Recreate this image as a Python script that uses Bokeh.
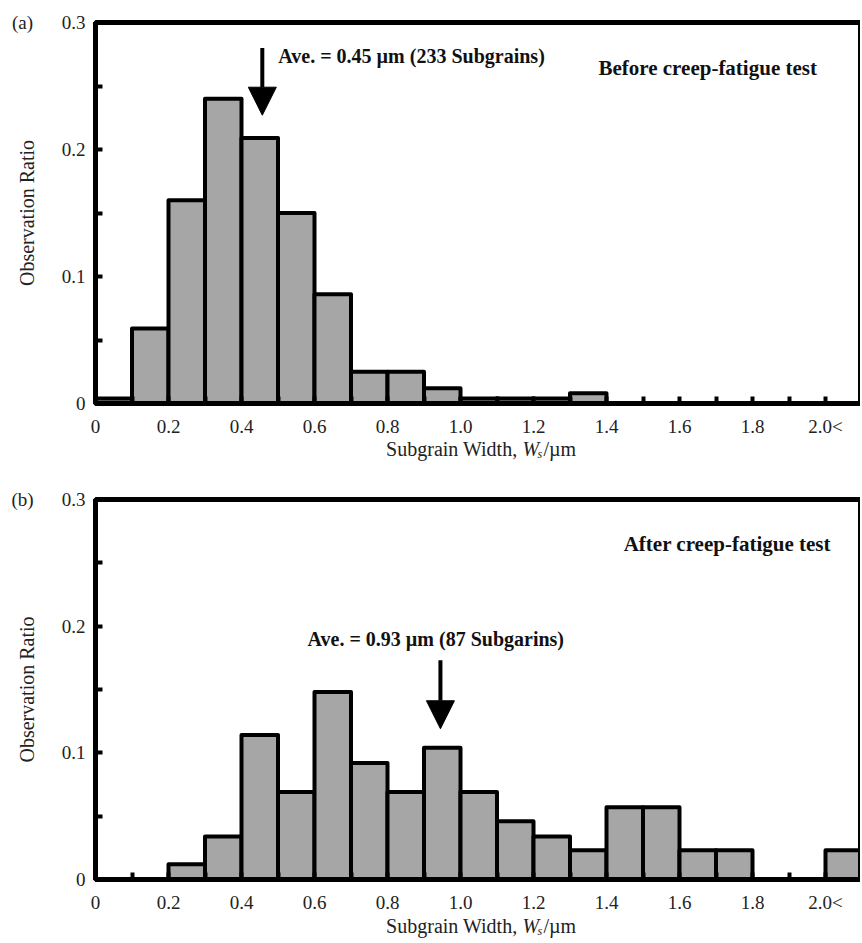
from bokeh.plotting import figure
from bokeh.layouts import column
from bokeh.models import (Range1d, FixedTicker, Label, Arrow, NormalHead, ColumnDataSource,
                          BoxAnnotation)
from bokeh.embed import file_html
from bokeh.resources import INLINE

# ---------------- data ----------------
BIN_LEFT = [0.0, 0.1, 0.2, 0.3, 0.4, 0.5, 0.6, 0.7, 0.8, 0.9, 1.0,
            1.1, 1.2, 1.3, 1.4, 1.5, 1.6, 1.7, 1.8, 1.9, 2.0]
BIN_WIDTH = 0.1
RATIO_BEFORE = [0.004, 0.059, 0.160, 0.240, 0.209, 0.150, 0.086, 0.025, 0.025, 0.012, 0.004,
                0.004, 0.004, 0.008, 0.0, 0.0, 0.0, 0.0, 0.0, 0.0, 0.0]
RATIO_AFTER = [0.0, 0.0, 0.012, 0.034, 0.114, 0.069, 0.148, 0.092, 0.069, 0.104, 0.069,
               0.046, 0.034, 0.023, 0.057, 0.057, 0.023, 0.023, 0.0, 0.0, 0.023]

X_TICKS = [0.0, 0.2, 0.4, 0.6, 0.8, 1.0, 1.2, 1.4, 1.6, 1.8, 2.0]
X_TICK_LABELS = ["0", "0.2", "0.4", "0.6", "0.8", "1.0", "1.2", "1.4", "1.6", "1.8", "2.0<"]
X_MINOR = [0.1, 0.3, 0.5, 0.7, 0.9, 1.1, 1.3, 1.5, 1.7, 1.9]
Y_TICKS = [0.0, 0.1, 0.2, 0.3]
Y_TICK_LABELS = ["0", "0.1", "0.2", "0.3"]
Y_MINOR = [0.05, 0.15, 0.25]

PANEL_LABELS = ["(a)", "(b)"]
AVE_TEXT = ["Ave. = 0.45 \u00b5m (233 Subgrains)", "Ave. = 0.93 \u00b5m (87 Subgarins)"]
COND_TEXT = ["Before creep-fatigue test", "After creep-fatigue test"]
Y_LABEL = "Observation Ratio"
X_LABEL_PARTS = ["Subgrain Width, ", "W", "s", "/\u00b5m"]

# ---------------- styles / layout ----------------
FONT = "Liberation Serif"
BAR_FILL = "#a6a6a6"
TXT = "#222222"
W = 860
PX_PER_X = 365.0          # pixels per x unit
LEFT_PX = 95              # canvas x of x = 0
X_MAX = (W - LEFT_PX) / PX_PER_X


def make_panel(values, idx, height, frame_top, frame_bottom, arrow_x, arrow_y, ave_xy, cond_xy,
               xlab_px):
    ppy = (frame_bottom - frame_top) / 0.3      # pixels per y unit
    y0 = -(height - frame_bottom) / ppy
    y1 = frame_bottom / ppy
    p = figure(width=W, height=height, output_backend="svg", toolbar_location=None,
               x_range=Range1d(-LEFT_PX / PX_PER_X, X_MAX), y_range=Range1d(y0, y1),
               min_border=0)
    p.background_fill_color = "white"
    p.border_fill_color = "white"
    p.outline_line_color = None
    p.xgrid.visible = False
    p.ygrid.visible = False

    left = [l for l, v in zip(BIN_LEFT, values) if v > 0]
    top = [v for v in values if v > 0]
    right = [l + BIN_WIDTH for l in left]
    src = ColumnDataSource(dict(left=left, right=right, top=top))
    p.quad(left="left", right="right", bottom=0, top="top", source=src,
           fill_color=BAR_FILL, line_color="black", line_width=4, line_join="round")

    # frame box (top and right edges)
    p.add_layout(BoxAnnotation(left=0, right=X_MAX, bottom=0, top=0.3, fill_alpha=0,
                               line_color="black", line_width=5, line_alpha=1))

    # axes
    p.xaxis.fixed_location = 0
    p.yaxis.fixed_location = 0
    p.xaxis.bounds = (0, X_MAX)
    p.yaxis.bounds = (0, 0.3)
    p.xaxis.ticker = FixedTicker(ticks=X_TICKS, minor_ticks=X_MINOR)
    p.xaxis.major_label_overrides = dict(zip(X_TICKS, X_TICK_LABELS))
    p.yaxis.ticker = FixedTicker(ticks=Y_TICKS, minor_ticks=Y_MINOR)
    p.yaxis.major_label_overrides = dict(zip(Y_TICKS, Y_TICK_LABELS))
    for ax in (p.xaxis[0], p.yaxis[0]):
        ax.axis_line_width = 5
        ax.axis_line_color = "black"
        ax.major_tick_in = 7
        ax.major_tick_out = 0
        ax.minor_tick_in = 7
        ax.minor_tick_out = 0
        ax.major_tick_line_width = 4
        ax.minor_tick_line_width = 4
        ax.major_label_text_font = FONT
        ax.major_label_text_font_size = "19px"
        ax.major_label_text_color = TXT
        ax.axis_label_text_font = FONT
        ax.axis_label_text_font_size = "20px"
        ax.axis_label_text_font_style = "normal"
        ax.axis_label_text_color = TXT
    p.xaxis.major_label_standoff = 12
    p.yaxis.major_label_standoff = 10
    p.yaxis.axis_label = Y_LABEL
    p.yaxis.axis_label_standoff = 21

    # x axis label made from parts (italic W with subscript s)
    ylab = -(xlab_px - frame_bottom) / ppy
    xw = (522 - LEFT_PX) / PX_PER_X
    common = dict(text_baseline="middle", text_font=FONT, text_color=TXT)
    p.add_layout(Label(x=xw, y=ylab, text=X_LABEL_PARTS[0], text_align="right",
                       text_font_size="20px", **common))
    p.add_layout(Label(x=xw, y=ylab, text=X_LABEL_PARTS[1], text_align="left",
                       text_font_size="20px", text_font_style="italic", **common))
    p.add_layout(Label(x=xw + 15 / PX_PER_X, y=ylab - 5 / ppy, text=X_LABEL_PARTS[2],
                       text_align="left", text_font_size="12px", text_font_style="italic",
                       **common))
    p.add_layout(Label(x=xw + 21 / PX_PER_X, y=ylab, text=X_LABEL_PARTS[3], text_align="left",
                       text_font_size="20px", **common))

    # panel tag
    p.add_layout(Label(x=(22 - LEFT_PX) / PX_PER_X, y=0.3, text=PANEL_LABELS[idx],
                       text_align="center", text_font_size="19px", **common))

    # annotations
    p.add_layout(Arrow(end=NormalHead(size=28, fill_color="black", line_color="black", line_width=1),
                       x_start=arrow_x, y_start=arrow_y[0], x_end=arrow_x, y_end=arrow_y[1],
                       line_width=4, line_color="black"))
    p.add_layout(Label(x=ave_xy[0], y=ave_xy[1], text=AVE_TEXT[idx], text_align="left",
                       text_baseline="middle", text_font=FONT, text_font_size="20px",
                       text_font_style="bold", text_color="#111111"))
    p.add_layout(Label(x=cond_xy[0], y=cond_xy[1], text=COND_TEXT[idx], text_align="left",
                       text_baseline="middle", text_font=FONT, text_font_size="21px",
                       text_font_style="bold", text_color="#111111"))
    return p


# panel (a): canvas 0..476, frame top 22, x axis at 403
pa = make_panel(RATIO_BEFORE, 0, 476, 22, 403, 0.457, (0.280, 0.227), (0.501, 0.274),
                (1.378, 0.264), 448)
# panel (b): canvas 476..941, frame top 23, x axis at 403
pb = make_panel(RATIO_AFTER, 1, 465, 23, 403, 0.945, (0.173, 0.119), (0.581, 0.190),
                (1.447, 0.265), 449)

layout = column(pa, pb)
open("out.html", "w").write(file_html(layout, INLINE))
